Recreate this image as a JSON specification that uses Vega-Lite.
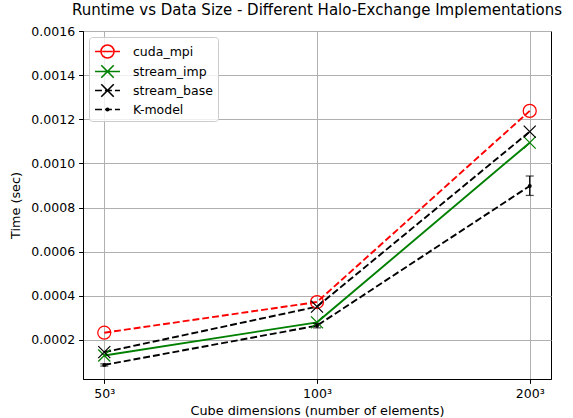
{
  "$schema": "https://vega.github.io/schema/vega-lite/v6.json",
  "width": 468,
  "height": 348,
  "autosize": {"type": "none"},
  "padding": {"left": 83, "top": 31, "right": 22, "bottom": 39},
  "title": {
    "text": "Runtime vs Data Size - Different Halo-Exchange Implementations",
    "fontSize": 15, "font": "DejaVu Sans", "fontWeight": "normal", "color": "black",
    "anchor": "middle", "frame": "group", "offset": 7
  },
  "config": {
    "font": "DejaVu Sans",
    "view": {"stroke": "black", "strokeWidth": 1},
    "axis": {
      "domainColor": "black", "domainWidth": 1, "tickColor": "black", "tickWidth": 1, "tickSize": 4.4,
      "labelColor": "black", "titleColor": "black", "labelFontSize": 12.5, "titleFontSize": 12.8,
      "titleFontWeight": "normal", "labelFont": "DejaVu Sans", "titleFont": "DejaVu Sans",
      "gridColor": "#b0b0b0", "gridWidth": 1, "gridOpacity": 1, "labelPadding": 4
    }
  },
  "data": {
    "values": [
      {"series": "cuda_mpi", "size": "50³", "time": 0.000233},
      {"series": "cuda_mpi", "size": "100³", "time": 0.000372},
      {"series": "cuda_mpi", "size": "200³", "time": 0.001238},
      {"series": "stream_imp", "size": "50³", "time": 0.00013},
      {"series": "stream_imp", "size": "100³", "time": 0.00028},
      {"series": "stream_imp", "size": "200³", "time": 0.001094},
      {"series": "stream_base", "size": "50³", "time": 0.000145},
      {"series": "stream_base", "size": "100³", "time": 0.000351},
      {"series": "stream_base", "size": "200³", "time": 0.001144},
      {"series": "K-model", "size": "50³", "time": 0.000087, "lo": 0.000082, "hi": 0.000092},
      {"series": "K-model", "size": "100³", "time": 0.000265, "lo": 0.000255, "hi": 0.000275},
      {"series": "K-model", "size": "200³", "time": 0.000898, "lo": 0.000855, "hi": 0.000943}
    ]
  },
  "layer": [
    {
      "data": {"values": []},
      "mark": {"type": "point", "filled": false, "opacity": 1, "strokeWidth": 1.6},
      "encoding": {
        "color": {"field": "series", "type": "nominal",
                  "scale": {"domain": ["cuda_mpi", "stream_imp", "stream_base", "K-model"], "range": ["#ff0000", "#008000", "#000000", "#000000"]},
                  "legend": {"title": null, "orient": "top-left", "offset": 6, "padding": 5, "cornerRadius": 3,
                             "strokeColor": "#cccccc", "fillColor": "rgba(255,255,255,0.8)",
                             "labelFontSize": 12.5, "labelFont": "DejaVu Sans", "labelColor": "black",
                             "symbolSize": 300, "symbolStrokeWidth": 1.6, "symbolOffset": 4, "labelOffset": 16, "rowPadding": -1, "symbolOpacity": 1}},
        "shape": {"field": "series", "type": "nominal",
                  "scale": {"domain": ["cuda_mpi", "stream_imp", "stream_base", "K-model"],
                            "range": [
                              "M-1.44,0H-0.8M-0.62,0H0.62M0.8,0H1.44M0.75,0A0.75,0.75 0 1,1 -0.75,0A0.75,0.75 0 1,1 0.75,0Z",
                              "M-1.44,0H1.44M-0.72,-0.72L0.72,0.72M0.72,-0.72L-0.72,0.72",
                              "M-1.44,0H-0.64M-0.29,0H0.51M0.86,0H1.44M-0.72,-0.72L0.72,0.72M0.72,-0.72L-0.72,0.72",
                              "M-1.44,0H-0.64M-0.29,0H0.51M0.86,0H1.44M0.15,0A0.15,0.15 0 1,1 -0.15,0A0.15,0.15 0 1,1 0.15,0Z"
                            ]},
                  "legend": {"title": null, "orient": "top-left", "offset": 6, "padding": 5, "cornerRadius": 3,
                             "strokeColor": "#cccccc", "fillColor": "rgba(255,255,255,0.8)",
                             "labelFontSize": 12.5, "labelFont": "DejaVu Sans", "labelColor": "black",
                             "symbolSize": 300, "symbolStrokeWidth": 1.6, "symbolOffset": 4, "labelOffset": 16, "rowPadding": -1, "symbolOpacity": 1}}
      }
    },
    {
      "transform": [{"filter": "datum.series != 'stream_imp'"}],
      "mark": {"type": "line", "strokeWidth": 1.9, "strokeCap": "butt", "strokeDash": [6.9, 3]},
      "encoding": {
        "x": {"field": "size", "type": "nominal", "sort": ["50³", "100³", "200³"],
              "scale": {"type": "point", "domain": ["50³", "100³", "200³"], "padding": 0.1},
              "title": "Cube dimensions (number of elements)",
              "axis": {"labelAngle": 0, "grid": true, "titlePadding": 5}},
        "y": {"field": "time", "type": "quantitative",
              "scale": {"domain": [0.0000233, 0.0016], "nice": false, "zero": false},
              "title": "Time (sec)",
              "axis": {"values": [0.0002, 0.0004, 0.0006, 0.0008, 0.001, 0.0012, 0.0014, 0.0016], "format": ".4f", "grid": true, "titlePadding": 8}},
        "color": {"field": "series", "type": "nominal"}
      }
    },
    {
      "transform": [{"filter": "datum.series == 'stream_imp'"}],
      "mark": {"type": "line", "strokeWidth": 1.9, "strokeCap": "butt"},
      "encoding": {
        "x": {"field": "size", "type": "nominal", "title": "Cube dimensions (number of elements)"},
        "y": {"field": "time", "type": "quantitative", "title": "Time (sec)"},
        "color": {"field": "series", "type": "nominal"}
      }
    },
    {
      "transform": [{"filter": "datum.series == 'cuda_mpi'"}],
      "mark": {"type": "point", "shape": "circle", "size": 169, "strokeWidth": 1.25, "filled": false, "opacity": 1},
      "encoding": {
        "x": {"field": "size", "type": "nominal", "title": "Cube dimensions (number of elements)"},
        "y": {"field": "time", "type": "quantitative", "title": "Time (sec)"},
        "color": {"field": "series", "type": "nominal"}
      }
    },
    {
      "transform": [{"filter": "datum.series == 'stream_imp' || datum.series == 'stream_base'"}],
      "mark": {"type": "point", "shape": "M-1,-1L1,1M1,-1L-1,1", "size": 144, "strokeWidth": 1.25, "filled": false, "opacity": 1},
      "encoding": {
        "x": {"field": "size", "type": "nominal", "title": "Cube dimensions (number of elements)"},
        "y": {"field": "time", "type": "quantitative", "title": "Time (sec)"},
        "color": {"field": "series", "type": "nominal"}
      }
    },
    {
      "transform": [{"filter": "datum.series == 'K-model'"}],
      "mark": {"type": "errorbar", "ticks": {"color": "black", "size": 8, "thickness": 1.25}, "rule": {"color": "black", "strokeWidth": 1.25}},
      "encoding": {
        "x": {"field": "size", "type": "nominal", "title": "Cube dimensions (number of elements)"},
        "y": {"field": "lo", "type": "quantitative", "title": "Time (sec)"},
        "y2": {"field": "hi"}
      }
    },
    {
      "transform": [{"filter": "datum.series == 'K-model'"}],
      "mark": {"type": "point", "shape": "circle", "size": 16, "filled": true, "color": "black", "opacity": 1},
      "encoding": {
        "x": {"field": "size", "type": "nominal", "title": "Cube dimensions (number of elements)"},
        "y": {"field": "time", "type": "quantitative", "title": "Time (sec)"}
      }
    }
  ]
}
